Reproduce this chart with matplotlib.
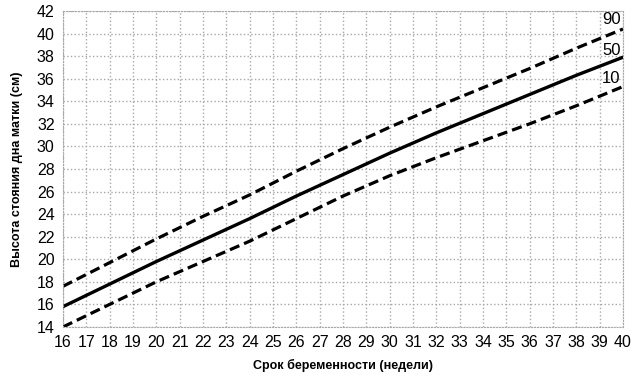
import numpy as np
import matplotlib
matplotlib.use("Agg")
import matplotlib.pyplot as plt

plt.rcParams['font.family'] = ['Liberation Sans Narrow', 'Liberation Sans', 'DejaVu Sans']

weeks = [16, 18, 20, 22, 24, 26, 28, 30, 32, 34, 36, 38, 40]
p90 = [17.6, 19.7, 21.8, 23.8, 25.7, 27.8, 29.8, 31.7, 33.5, 35.2, 36.9, 38.7, 40.4]
p50 = [15.8, 17.8, 19.8, 21.7, 23.6, 25.6, 27.5, 29.4, 31.2, 32.9, 34.6, 36.3, 37.9]
p10 = [14.0, 16.0, 18.0, 19.8, 21.6, 23.6, 25.6, 27.4, 29.0, 30.5, 32.0, 33.6, 35.3]

labels = ["90", "50", "10"]
label_pos = [41.2, 38.5, 36.0]

x_ticks = list(range(16, 41))
y_ticks = list(range(14, 43, 2))

fig = plt.figure(figsize=(6.38, 3.78), dpi=100)
ax = fig.add_axes([0.0987, 0.135, 0.8778, 0.836])

ax.plot(weeks, p90, color='black', lw=2.3, ls=(0, (3.2, 1.6)))
ax.plot(weeks, p50, color='black', lw=2.4, ls='-')
ax.plot(weeks, p10, color='black', lw=2.3, ls=(0, (3.2, 1.6)))

for lab, yy in zip(labels, label_pos):
    ax.text(39.5, yy, lab, fontsize=12, ha='center', va='center')

ax.set_xlim(16, 40)
ax.set_ylim(14, 42)
ax.set_xticks(x_ticks)
ax.set_yticks(y_ticks)
ax.tick_params(length=0, labelsize=11.5, pad=6)
ax.grid(True, color='#a8a8a8', ls=':', lw=1.0)
for s in ax.spines.values():
    s.set_color('#a8a8a8')
    s.set_linestyle(':')

ax.set_xlabel('Срок беременности (недели)', fontsize=9, fontweight='bold', labelpad=6)
ax.set_ylabel('Высота стояния дна матки (см)', fontsize=9, fontweight='bold', labelpad=10)

fig.savefig('out.png', dpi=100)
